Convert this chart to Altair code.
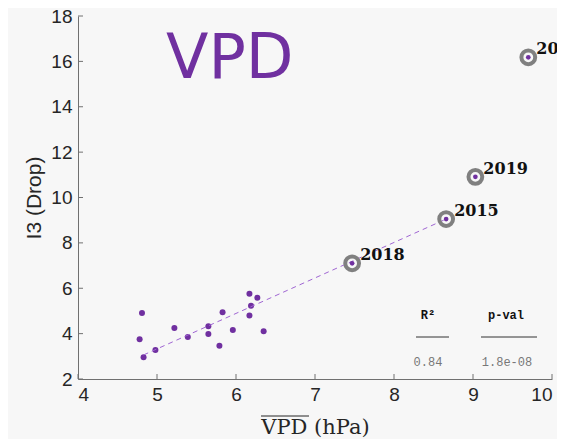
import altair as alt
import pandas as pd

# small points (years without labels)
vpd_small = [4.81, 4.78, 4.83, 4.98, 5.22, 5.39, 5.65, 5.65, 5.83, 5.79, 5.96, 6.17, 6.27, 6.19, 6.17, 6.35]
i3_small = [4.91, 3.75, 2.96, 3.28, 4.25, 3.85, 4.33, 3.98, 4.94, 3.47, 4.16, 5.76, 5.58, 5.23, 4.80, 4.11]

# highlighted years
years = ["2018", "2015", "2019", "2003"]
vpd_hl = [7.47, 8.66, 9.03, 9.70]
i3_hl = [7.10, 9.05, 10.91, 16.18]

# regression line end points
fit_x = [4.83, 8.66]
fit_y = [3.06, 9.05]

x_ticks = [4, 5, 6, 7, 8, 9, 10]
y_ticks = [2, 4, 6, 8, 10, 12, 14, 16, 18]

stats_head = ["R²", "p-val"]
stats_vals = ["0.84", "1.8e-08"]

W, H = 474, 363
PURPLE = "#7030a0"

small = pd.DataFrame({"x": vpd_small, "y": i3_small})
hl = pd.DataFrame({"x": vpd_hl, "y": i3_hl, "year": years})
fit = pd.DataFrame({"x": fit_x, "y": fit_y})

xs = alt.Scale(domain=[4, 10], nice=False, zero=False)
ys = alt.Scale(domain=[2, 18], nice=False, zero=False)

xax = alt.Axis(values=x_ticks, format="d", ticks=False, grid=False, labelFontSize=19, labelColor="#262626",
               labelFont="Liberation Sans", labelPadding=6, domainColor="#707070",
               title="VPD (hPa)", titleFont="DejaVu Serif", titleFontWeight="normal",
               titleFontSize=21, titleColor="#262626", titlePadding=12)
yax = alt.Axis(values=y_ticks, format="d", ticks=False, grid=False, labelFontSize=19, labelColor="#262626",
               labelFont="Liberation Sans", labelPadding=6, domainColor="#707070",
               title="I3 (Drop)", titleFont="Liberation Sans", titleFontWeight="normal",
               titleFontSize=21, titleColor="#262626", titlePadding=6)

pts = alt.Chart(small).mark_circle(size=36, color=PURPLE, opacity=1).encode(
    x=alt.X("x:Q", scale=xs, axis=xax),
    y=alt.Y("y:Q", scale=ys, axis=yax),
)

line = alt.Chart(fit).mark_line(color="#a066d3", strokeDash=[5, 4], strokeWidth=1).encode(
    x=alt.X("x:Q", scale=xs), y=alt.Y("y:Q", scale=ys))

rings = alt.Chart(hl).mark_point(size=190, stroke="#808080", strokeWidth=4, filled=False, opacity=1).encode(
    x=alt.X("x:Q", scale=xs), y=alt.Y("y:Q", scale=ys))
dots = alt.Chart(hl).mark_circle(size=22, color=PURPLE, opacity=1).encode(
    x=alt.X("x:Q", scale=xs), y=alt.Y("y:Q", scale=ys))
labels = alt.Chart(hl).mark_text(align="left", baseline="alphabetic", dx=8, dy=-3,
                                 font="DejaVu Serif", fontWeight="bold", fontSize=16, color="#111111").encode(
    x=alt.X("x:Q", scale=xs), y=alt.Y("y:Q", scale=ys), text="year:N")

# inward ticks
xt = alt.Chart(pd.DataFrame({"t": x_ticks})).mark_rule(color="#707070").encode(
    x=alt.X("t:Q", scale=xs), y=alt.value(H), y2=alt.value(H - 5))
yt = alt.Chart(pd.DataFrame({"t": y_ticks})).mark_rule(color="#707070").encode(
    y=alt.Y("t:Q", scale=ys), x=alt.value(0), x2=alt.value(5))

# overline on "VPD" of the x-axis title
ovl = alt.Chart(pd.DataFrame({"a": [0]})).mark_rule(color="#262626", strokeWidth=1).encode(
    x=alt.value(183), x2=alt.value(231), y=alt.value(400))

title = alt.Chart(pd.DataFrame({"t": ["VPD"]})).mark_text(
    align="left", baseline="alphabetic", font="DejaVu Sans", fontWeight="normal", fontSize=62, color=PURPLE
).encode(x=alt.value(88), y=alt.value(62), text="t:N")

head = alt.Chart(pd.DataFrame({"t": stats_head, "px": [350, 428]})).mark_text(
    align="center", baseline="alphabetic", font="Liberation Mono", fontWeight="bold", fontSize=12, color="#111111"
).encode(x=alt.X("px:Q", scale=None), y=alt.value(303), text="t:N")
vals = alt.Chart(pd.DataFrame({"t": stats_vals, "px": [350, 429]})).mark_text(
    align="center", baseline="alphabetic", font="Liberation Mono", fontSize=12, color="#777777"
).encode(x=alt.X("px:Q", scale=None), y=alt.value(350), text="t:N")
ul = alt.Chart(pd.DataFrame({"a": [338, 403], "b": [371, 459]})).mark_rule(color="#333333", strokeWidth=1).encode(
    x=alt.X("a:Q", scale=None), x2="b:Q", y=alt.value(321))

chart = alt.layer(pts, line, rings, dots, labels, xt, yt, ovl, title, head, vals, ul).properties(
    width=W, height=H, background="#f7f7f7",
    padding={"left": 70, "top": 8, "right": 5, "bottom": 60},
    autosize=alt.AutoSizeParams(type="none"),
).configure_view(stroke=None)

chart.save("out.html", embed_options={"renderer": "svg", "actions": False})
